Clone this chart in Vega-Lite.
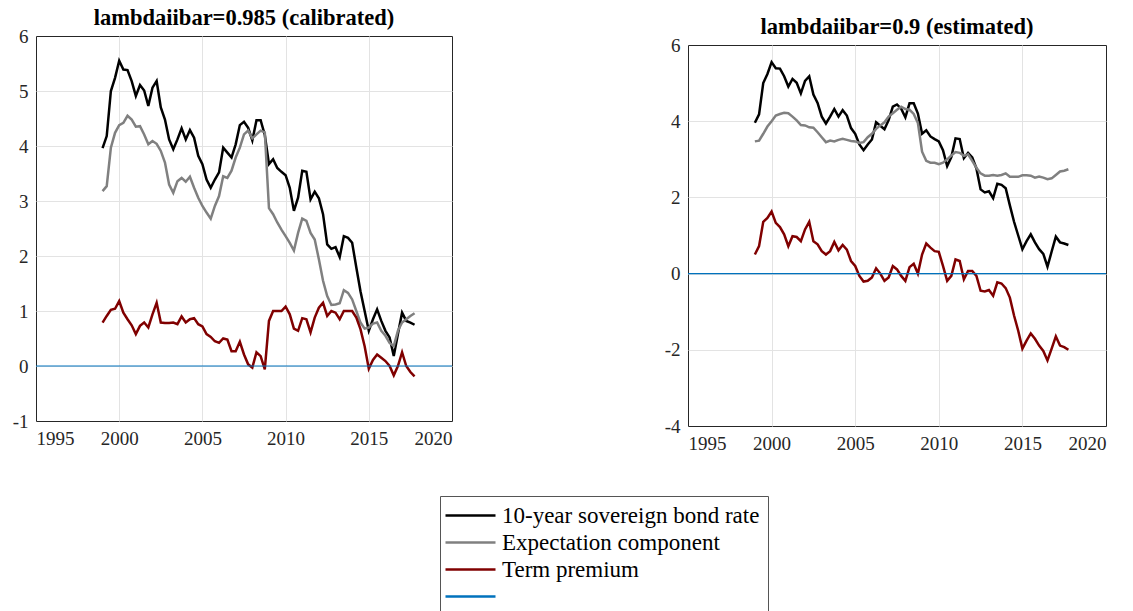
{
 "$schema": "https://vega.github.io/schema/vega-lite/v6.json",
 "padding": {"left": 11, "top": 6, "right": 5, "bottom": 5},
 "background": "white",
 "config": {
  "font": "Liberation Serif",
  "view": {"stroke": "#262626", "strokeWidth": 1},
  "axis": {"labelFont": "Liberation Serif", "labelFontSize": 19, "labelColor": "#262626", "gridColor": "#e3e3e3", "gridWidth": 1, "domain": false, "ticks": false, "title": null, "labelPadding": 8, "labelExpr": "'' + datum.value"},
  "title": {"font": "Liberation Serif", "fontSize": 22.5, "fontWeight": "bold", "color": "#000000", "offset": -2},
  "line": {"strokeWidth": 2.5}
 },
 "datasets": {
  "d": [
   {"p":"c","t":1999,"bond":3.96,"exp":3.18,"tp":0.79},{"p":"c","t":1999.25,"bond":4.18,"exp":3.27,"tp":0.91},{"p":"c","t":1999.5,"bond":5.0,"exp":3.97,"tp":1.02},{"p":"c","t":1999.75,"bond":5.24,"exp":4.24,"tp":1.04},
   {"p":"c","t":2000,"bond":5.55,"exp":4.38,"tp":1.18},{"p":"c","t":2000.25,"bond":5.39,"exp":4.42,"tp":0.97},{"p":"c","t":2000.5,"bond":5.38,"exp":4.55,"tp":0.85},{"p":"c","t":2000.75,"bond":5.18,"exp":4.48,"tp":0.74},
   {"p":"c","t":2001,"bond":4.91,"exp":4.35,"tp":0.58},{"p":"c","t":2001.25,"bond":5.11,"exp":4.36,"tp":0.73},{"p":"c","t":2001.5,"bond":5.01,"exp":4.21,"tp":0.79},{"p":"c","t":2001.75,"bond":4.73,"exp":4.03,"tp":0.7},
   {"p":"c","t":2002,"bond":5.06,"exp":4.09,"tp":0.94},{"p":"c","t":2002.25,"bond":5.18,"exp":4.04,"tp":1.15},{"p":"c","t":2002.5,"bond":4.7,"exp":3.91,"tp":0.79},{"p":"c","t":2002.75,"bond":4.48,"exp":3.7,"tp":0.78},
   {"p":"c","t":2003,"bond":4.12,"exp":3.3,"tp":0.78},{"p":"c","t":2003.25,"bond":3.94,"exp":3.15,"tp":0.79},{"p":"c","t":2003.5,"bond":4.12,"exp":3.36,"tp":0.76},{"p":"c","t":2003.75,"bond":4.32,"exp":3.42,"tp":0.9},
   {"p":"c","t":2004,"bond":4.12,"exp":3.35,"tp":0.79},{"p":"c","t":2004.25,"bond":4.29,"exp":3.44,"tp":0.85},{"p":"c","t":2004.5,"bond":4.15,"exp":3.24,"tp":0.87},{"p":"c","t":2004.75,"bond":3.82,"exp":3.06,"tp":0.76},
   {"p":"c","t":2005,"bond":3.67,"exp":2.91,"tp":0.72},{"p":"c","t":2005.25,"bond":3.39,"exp":2.79,"tp":0.58},{"p":"c","t":2005.5,"bond":3.24,"exp":2.68,"tp":0.53},{"p":"c","t":2005.75,"bond":3.39,"exp":2.91,"tp":0.45},
   {"p":"c","t":2006,"bond":3.52,"exp":3.09,"tp":0.42},{"p":"c","t":2006.25,"bond":3.97,"exp":3.45,"tp":0.5},{"p":"c","t":2006.5,"bond":3.88,"exp":3.42,"tp":0.48},{"p":"c","t":2006.75,"bond":3.79,"exp":3.55,"tp":0.27},
   {"p":"c","t":2007,"bond":4.03,"exp":3.79,"tp":0.27},{"p":"c","t":2007.25,"bond":4.38,"exp":3.97,"tp":0.44},{"p":"c","t":2007.5,"bond":4.44,"exp":4.21,"tp":0.21},{"p":"c","t":2007.75,"bond":4.33,"exp":4.28,"tp":0.03},
   {"p":"c","t":2008,"bond":4.1,"exp":4.14,"tp":-0.03},{"p":"c","t":2008.25,"bond":4.47,"exp":4.21,"tp":0.25},{"p":"c","t":2008.5,"bond":4.47,"exp":4.28,"tp":0.18},{"p":"c","t":2008.75,"bond":4.2,"exp":4.25,"tp":-0.06},
   {"p":"c","t":2009,"bond":3.67,"exp":2.87,"tp":0.82},{"p":"c","t":2009.25,"bond":3.76,"exp":2.76,"tp":1.0},{"p":"c","t":2009.5,"bond":3.6,"exp":2.61,"tp":1.0},{"p":"c","t":2009.75,"bond":3.53,"exp":2.48,"tp":1.0},
   {"p":"c","t":2010,"bond":3.47,"exp":2.36,"tp":1.08},{"p":"c","t":2010.25,"bond":3.24,"exp":2.24,"tp":0.94},{"p":"c","t":2010.5,"bond":2.82,"exp":2.1,"tp":0.68},{"p":"c","t":2010.75,"bond":3.06,"exp":2.42,"tp":0.64},
   {"p":"c","t":2011,"bond":3.55,"exp":2.68,"tp":0.87},{"p":"c","t":2011.25,"bond":3.53,"exp":2.64,"tp":0.85},{"p":"c","t":2011.5,"bond":3.03,"exp":2.42,"tp":0.61},{"p":"c","t":2011.75,"bond":3.17,"exp":2.3,"tp":0.88},
   {"p":"c","t":2012,"bond":3.05,"exp":1.94,"tp":1.06},{"p":"c","t":2012.25,"bond":2.76,"exp":1.55,"tp":1.15},{"p":"c","t":2012.5,"bond":2.21,"exp":1.27,"tp":0.91},{"p":"c","t":2012.75,"bond":2.13,"exp":1.11,"tp":1.0},
   {"p":"c","t":2013,"bond":2.16,"exp":1.12,"tp":0.97},{"p":"c","t":2013.25,"bond":1.98,"exp":1.14,"tp":0.85},{"p":"c","t":2013.5,"bond":2.36,"exp":1.38,"tp":1.0},{"p":"c","t":2013.75,"bond":2.33,"exp":1.33,"tp":1.0},
   {"p":"c","t":2014,"bond":2.24,"exp":1.21,"tp":1.0},{"p":"c","t":2014.25,"bond":1.79,"exp":1.0,"tp":0.88},{"p":"c","t":2014.5,"bond":1.36,"exp":0.79,"tp":0.67},{"p":"c","t":2014.75,"bond":1.0,"exp":0.68,"tp":0.36},
   {"p":"c","t":2015,"bond":0.64,"exp":0.7,"tp":-0.05},{"p":"c","t":2015.25,"bond":0.85,"exp":0.77,"tp":0.11},{"p":"c","t":2015.5,"bond":1.03,"exp":0.79,"tp":0.21},{"p":"c","t":2015.75,"bond":0.82,"exp":0.64,"tp":0.15},
   {"p":"c","t":2016,"bond":0.64,"exp":0.55,"tp":0.09},{"p":"c","t":2016.25,"bond":0.52,"exp":0.42,"tp":0.0},{"p":"c","t":2016.5,"bond":0.18,"exp":0.36,"tp":-0.17},{"p":"c","t":2016.75,"bond":0.58,"exp":0.64,"tp":0.0},
   {"p":"c","t":2017,"bond":0.97,"exp":0.79,"tp":0.25},{"p":"c","t":2017.25,"bond":0.82,"exp":0.85,"tp":0.0},{"p":"c","t":2017.5,"bond":0.79,"exp":0.91,"tp":-0.11},{"p":"c","t":2017.75,"bond":0.75,"exp":0.96,"tp":-0.19},
   {"p":"e","t":1999,"bond":3.96,"exp":3.47,"tp":0.5},{"p":"e","t":1999.25,"bond":4.18,"exp":3.49,"tp":0.72},{"p":"e","t":1999.5,"bond":5.0,"exp":3.67,"tp":1.36},{"p":"e","t":1999.75,"bond":5.24,"exp":3.86,"tp":1.46},
   {"p":"e","t":2000,"bond":5.55,"exp":4.0,"tp":1.63},{"p":"e","t":2000.25,"bond":5.39,"exp":4.15,"tp":1.33},{"p":"e","t":2000.5,"bond":5.38,"exp":4.19,"tp":1.22},{"p":"e","t":2000.75,"bond":5.18,"exp":4.22,"tp":1.03},
   {"p":"e","t":2001,"bond":4.91,"exp":4.21,"tp":0.72},{"p":"e","t":2001.25,"bond":5.11,"exp":4.12,"tp":0.98},{"p":"e","t":2001.5,"bond":5.01,"exp":4.02,"tp":0.96},{"p":"e","t":2001.75,"bond":4.73,"exp":3.9,"tp":0.85},
   {"p":"e","t":2002,"bond":5.06,"exp":3.89,"tp":1.16},{"p":"e","t":2002.25,"bond":5.18,"exp":3.84,"tp":1.36},{"p":"e","t":2002.5,"bond":4.7,"exp":3.83,"tp":0.85},{"p":"e","t":2002.75,"bond":4.48,"exp":3.71,"tp":0.77},
   {"p":"e","t":2003,"bond":4.12,"exp":3.58,"tp":0.59},{"p":"e","t":2003.25,"bond":3.94,"exp":3.45,"tp":0.5},{"p":"e","t":2003.5,"bond":4.12,"exp":3.49,"tp":0.59},{"p":"e","t":2003.75,"bond":4.32,"exp":3.47,"tp":0.83},
   {"p":"e","t":2004,"bond":4.12,"exp":3.51,"tp":0.61},{"p":"e","t":2004.25,"bond":4.29,"exp":3.54,"tp":0.75},{"p":"e","t":2004.5,"bond":4.15,"exp":3.51,"tp":0.63},{"p":"e","t":2004.75,"bond":3.82,"exp":3.48,"tp":0.33},
   {"p":"e","t":2005,"bond":3.67,"exp":3.47,"tp":0.2},{"p":"e","t":2005.25,"bond":3.39,"exp":3.43,"tp":-0.06},{"p":"e","t":2005.5,"bond":3.24,"exp":3.45,"tp":-0.21},{"p":"e","t":2005.75,"bond":3.39,"exp":3.58,"tp":-0.19},
   {"p":"e","t":2006,"bond":3.52,"exp":3.67,"tp":-0.1},{"p":"e","t":2006.25,"bond":3.97,"exp":3.8,"tp":0.14},{"p":"e","t":2006.5,"bond":3.88,"exp":3.89,"tp":0.0},{"p":"e","t":2006.75,"bond":3.79,"exp":3.97,"tp":-0.19},
   {"p":"e","t":2007,"bond":4.03,"exp":4.12,"tp":-0.1},{"p":"e","t":2007.25,"bond":4.38,"exp":4.21,"tp":0.2},{"p":"e","t":2007.5,"bond":4.44,"exp":4.3,"tp":0.11},{"p":"e","t":2007.75,"bond":4.33,"exp":4.38,"tp":-0.06},
   {"p":"e","t":2008,"bond":4.1,"exp":4.32,"tp":-0.19},{"p":"e","t":2008.25,"bond":4.47,"exp":4.3,"tp":0.17},{"p":"e","t":2008.5,"bond":4.47,"exp":4.19,"tp":0.26},{"p":"e","t":2008.75,"bond":4.2,"exp":3.95,"tp":0.0},
   {"p":"e","t":2009,"bond":3.67,"exp":3.2,"tp":0.5},{"p":"e","t":2009.25,"bond":3.76,"exp":2.96,"tp":0.79},{"p":"e","t":2009.5,"bond":3.6,"exp":2.91,"tp":0.68},{"p":"e","t":2009.75,"bond":3.53,"exp":2.91,"tp":0.59},
   {"p":"e","t":2010,"bond":3.47,"exp":2.87,"tp":0.57},{"p":"e","t":2010.25,"bond":3.24,"exp":2.91,"tp":0.2},{"p":"e","t":2010.5,"bond":2.82,"exp":3.0,"tp":-0.19},{"p":"e","t":2010.75,"bond":3.06,"exp":3.1,"tp":-0.06},
   {"p":"e","t":2011,"bond":3.55,"exp":3.19,"tp":0.37},{"p":"e","t":2011.25,"bond":3.53,"exp":3.17,"tp":0.33},{"p":"e","t":2011.5,"bond":3.03,"exp":3.09,"tp":-0.15},{"p":"e","t":2011.75,"bond":3.17,"exp":3.13,"tp":0.07},
   {"p":"e","t":2012,"bond":3.05,"exp":2.96,"tp":0.07},{"p":"e","t":2012.25,"bond":2.76,"exp":2.78,"tp":-0.06},{"p":"e","t":2012.5,"bond":2.21,"exp":2.63,"tp":-0.45},{"p":"e","t":2012.75,"bond":2.13,"exp":2.57,"tp":-0.47},
   {"p":"e","t":2013,"bond":2.16,"exp":2.57,"tp":-0.43},{"p":"e","t":2013.25,"bond":1.98,"exp":2.59,"tp":-0.58},{"p":"e","t":2013.5,"bond":2.36,"exp":2.57,"tp":-0.23},{"p":"e","t":2013.75,"bond":2.33,"exp":2.59,"tp":-0.26},
   {"p":"e","t":2014,"bond":2.24,"exp":2.63,"tp":-0.38},{"p":"e","t":2014.25,"bond":1.79,"exp":2.54,"tp":-0.63},{"p":"e","t":2014.5,"bond":1.36,"exp":2.54,"tp":-1.1},{"p":"e","t":2014.75,"bond":1.0,"exp":2.54,"tp":-1.5},
   {"p":"e","t":2015,"bond":0.64,"exp":2.58,"tp":-1.97},{"p":"e","t":2015.25,"bond":0.85,"exp":2.58,"tp":-1.76},{"p":"e","t":2015.5,"bond":1.03,"exp":2.57,"tp":-1.57},{"p":"e","t":2015.75,"bond":0.82,"exp":2.52,"tp":-1.71},
   {"p":"e","t":2016,"bond":0.64,"exp":2.55,"tp":-1.89},{"p":"e","t":2016.25,"bond":0.52,"exp":2.52,"tp":-2.03},{"p":"e","t":2016.5,"bond":0.18,"exp":2.48,"tp":-2.28},{"p":"e","t":2016.75,"bond":0.58,"exp":2.5,"tp":-1.97},
   {"p":"e","t":2017,"bond":0.97,"exp":2.59,"tp":-1.65},{"p":"e","t":2017.25,"bond":0.82,"exp":2.68,"tp":-1.89},{"p":"e","t":2017.5,"bond":0.79,"exp":2.7,"tp":-1.93},{"p":"e","t":2017.75,"bond":0.75,"exp":2.74,"tp":-2.0}
  ]
 },
 "bounds": "flush",
 "spacing": 236,
 "resolve": {"scale": {"y": "independent", "color": "shared"}, "legend": {"color": "shared"}},
 "hconcat": [
  {
   "width": 416, "height": 385,
   "title": "lambdaiibar=0.985 (calibrated)",
   "layer": [
    {
     "data": {"name": "d"},
     "transform": [{"filter": "datum.p == 'c'"}, {"fold": ["bond", "exp", "tp"], "as": ["s", "v"]}],
     "mark": {"type": "line", "strokeWidth": 2.5},
     "encoding": {
      "x": {"field": "t", "type": "quantitative", "scale": {"domain": [1995, 2020]},
       "axis": {"values": [1995, 2000, 2005, 2010, 2015, 2020],
        "gridOpacity": {"condition": {"test": "datum.value == 1995 || datum.value == 2020", "value": 0}, "value": 1}}},
      "y": {"field": "v", "type": "quantitative", "scale": {"domain": [-1, 6]},
       "axis": {"values": [-1, 0, 1, 2, 3, 4, 5, 6],
        "gridOpacity": {"condition": {"test": "datum.value == -1 || datum.value == 6", "value": 0}, "value": 1}}},
      "color": {"field": "s", "type": "nominal",
       "scale": {"domain": ["bond", "exp", "tp", "zero"], "range": ["#000000", "#808080", "#800000", "#0072BD"]},
       "legend": {"orient": "none", "legendX": 404, "legendY": 460, "title": null,
        "labelExpr": "datum.label == 'bond' ? '10-year sovereign bond rate' : datum.label == 'exp' ? 'Expectation component' : datum.label == 'tp' ? 'Term premium' : ''",
        "symbolType": "M-2.8,0H7.2", "symbolSize": 100, "symbolStrokeWidth": 2.5, "labelFont": "Liberation Serif", "labelFontSize": 23, "labelColor": "#000000", "labelOffset": 31, "labelLimit": 500,
        "strokeColor": "#555555", "fillColor": "white", "padding": 8, "rowPadding": 3}}
     }
    },
    {
     "data": {"values": [{}]},
     "mark": {"type": "rule", "strokeWidth": 1.2},
     "encoding": {"y": {"datum": 0}, "color": {"datum": "zero"}}
    }
   ]
  },
  {
   "bounds": "flush",
   "spacing": 0,
   "vconcat": [
    {
     "width": 418, "height": 9,
     "view": {"stroke": null},
     "data": {"values": [{}]},
     "mark": {"type": "rule", "opacity": 0},
     "encoding": {}
    },
    {
     "width": 418, "height": 381,
     "title": "lambdaiibar=0.9 (estimated)",
     "layer": [
      {
       "data": {"name": "d"},
       "transform": [{"filter": "datum.p == 'e'"}, {"fold": ["bond", "exp", "tp"], "as": ["s", "v"]}],
       "mark": {"type": "line", "strokeWidth": 2.5},
       "encoding": {
        "x": {"field": "t", "type": "quantitative", "scale": {"domain": [1995, 2020]},
         "axis": {"values": [1995, 2000, 2005, 2010, 2015, 2020],
          "gridOpacity": {"condition": {"test": "datum.value == 1995 || datum.value == 2020", "value": 0}, "value": 1}}},
        "y": {"field": "v", "type": "quantitative", "scale": {"domain": [-4, 6]},
         "axis": {"values": [-4, -2, 0, 2, 4, 6],
          "gridOpacity": {"condition": {"test": "datum.value == -4 || datum.value == 6", "value": 0}, "value": 1}}},
        "color": {"field": "s", "type": "nominal"}
       }
      },
      {
       "data": {"values": [{}]},
       "mark": {"type": "rule", "strokeWidth": 1.2},
       "encoding": {"y": {"datum": 0}, "color": {"datum": "zero"}}
      }
     ]
    }
   ]
  }
 ]
}
